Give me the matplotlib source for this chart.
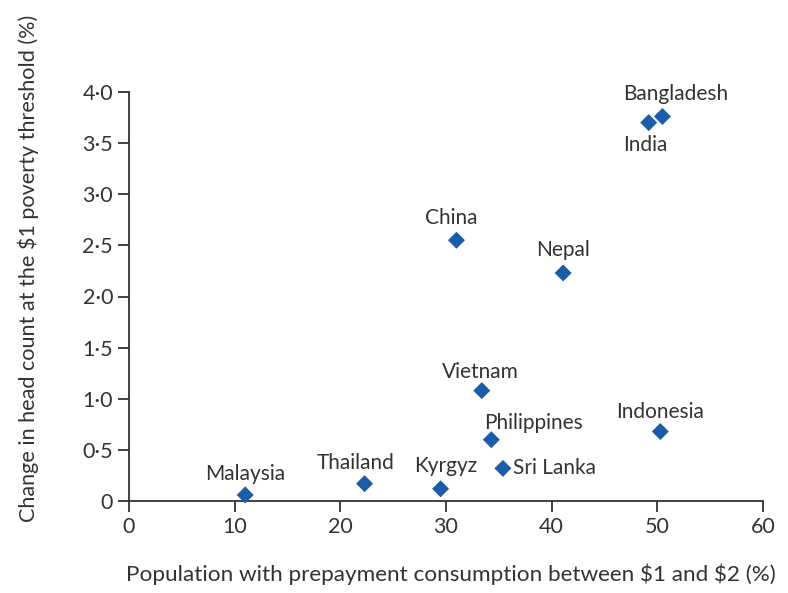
import matplotlib
matplotlib.use("Agg")
import matplotlib.pyplot as plt
from matplotlib.ticker import FuncFormatter

plt.rcParams["font.family"] = ["Lato", "DejaVu Sans"]

countries = ["Malaysia", "Thailand", "Kyrgyz", "Sri Lanka", "Philippines",
             "Vietnam", "Indonesia", "China", "Nepal", "India", "Bangladesh"]
prepay_pct = [11.0, 22.3, 29.5, 35.4, 34.3, 33.4, 50.3, 31.0, 41.1, 49.2, 50.5]
headcount_change = [0.06, 0.17, 0.12, 0.32, 0.60, 1.08, 0.68, 2.55, 2.23, 3.70, 3.76]

# label placement (pixel offsets from marker, horizontal alignment)
label_pos = {
    "Malaysia": ((0, 21), "center"),
    "Thailand": ((-9, 21), "center"),
    "Kyrgyz": ((5, 23), "center"),
    "Sri Lanka": ((10, 0), "left"),
    "Philippines": ((-7, 17), "left"),
    "Vietnam": ((-1, 19), "center"),
    "Indonesia": ((0, 20), "center"),
    "China": ((-5, 22), "center"),
    "Nepal": ((0, 23), "center"),
    "India": ((-3, -22), "center"),
    "Bangladesh": ((13, 22), "center"),
}

ink = "#333333"
blue = "#1a5ca8"

fig = plt.figure(figsize=(7.88, 5.93), dpi=100)
ax = fig.add_axes([0.1637, 0.155, 0.8043, 0.69])

ax.scatter(prepay_pct, headcount_change, marker="D", s=75, color=blue,
           edgecolors="none", zorder=3, clip_on=False)

for name, x, y in zip(countries, prepay_pct, headcount_change):
    (dx, dy), ha = label_pos[name]
    ax.annotate(name, (x, y), xytext=(dx, dy), textcoords="offset pixels",
                ha=ha, va="center", fontsize=15, color=ink)

ax.set_xlim(0, 60)
ax.set_ylim(0, 4.0)
ax.set_xticks(range(0, 61, 10))
ax.set_yticks([i * 0.5 for i in range(9)])
ax.yaxis.set_major_formatter(FuncFormatter(
    lambda v, p: "0" if v == 0 else f"{v:.1f}".replace(".", "\u00b7")))

for side in ("top", "right"):
    ax.spines[side].set_visible(False)
for side in ("left", "bottom"):
    ax.spines[side].set_color(ink)
    ax.spines[side].set_linewidth(1.3)
ax.tick_params(colors=ink, labelsize=15.5, length=8, width=1.3, direction="out")

# axis titles placed in figure coordinates
fig.text(0.572, 0.032, r"Population with prepayment consumption between \$1 and \$2 (%)",
         ha="center", va="center", fontsize=16.2, color=ink)
fig.text(0.036, 0.548, r"Change in head count at the \$1 poverty threshold (%)",
         ha="center", va="center", rotation=90, fontsize=15.6, color=ink)

fig.savefig("out.png", dpi=100, facecolor="white")
